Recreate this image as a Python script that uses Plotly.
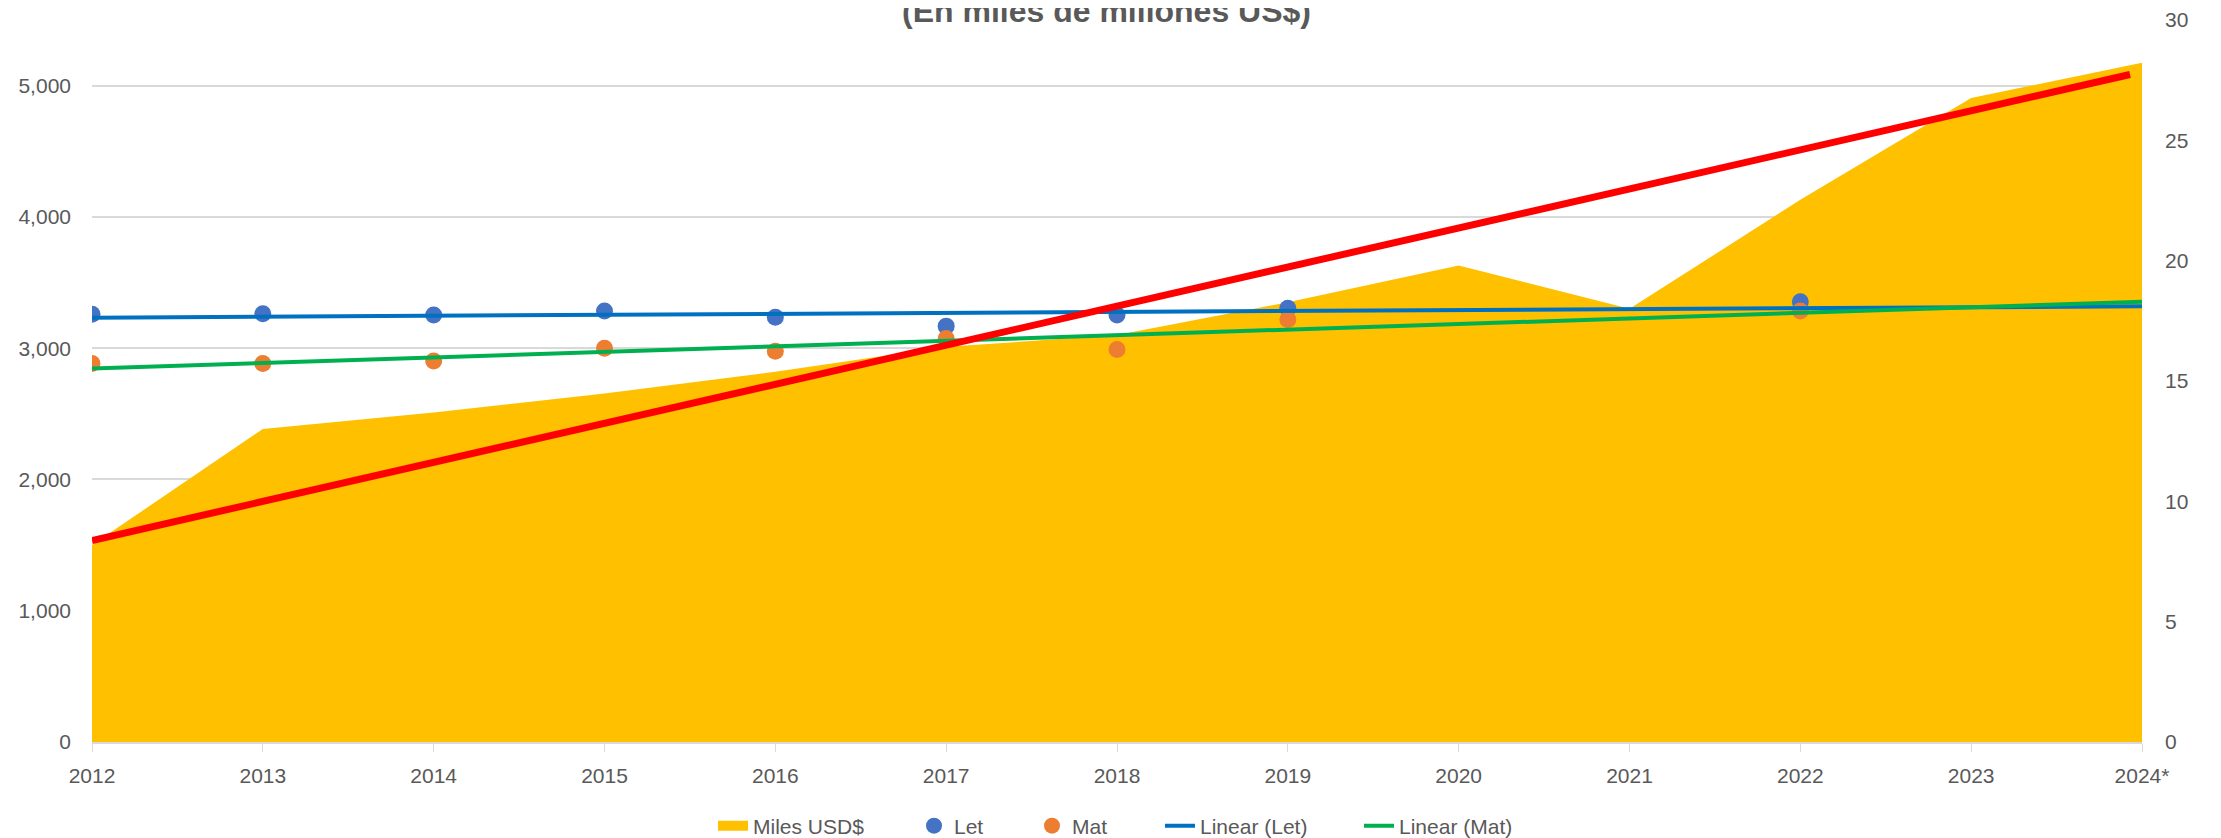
import numpy as np
import plotly.graph_objects as go

# ---------------- data ----------------
years = [2012, 2013, 2014, 2015, 2016, 2017, 2018, 2019, 2020, 2021, 2022, 2023, 2024]
year_labels = ["2012", "2013", "2014", "2015", "2016", "2017", "2018", "2019",
               "2020", "2021", "2022", "2023", "2024*"]
miles_usd = [1500, 2385, 2510, 2655, 2820, 3010, 3100, 3350, 3630, 3300, 4130, 4905, 5175]
let_scores = [17.77, 17.79, 17.74, 17.91, 17.65, 17.28, 17.74, 18.02, None, None, 18.29, None, None]
mat_scores = [15.73, 15.73, 15.83, 16.36, 16.24, 16.77, 16.31, 17.56, None, None, 17.91, None, None]
# red guide line (left-axis units)
red_years = [2012, 2023.93]
red_usd = [1535, 5085]

left_ticks = [0, 1000, 2000, 3000, 4000, 5000]
right_ticks = [0, 5, 10, 15, 20, 25, 30]
LEFT_MAX = 5500
RIGHT_MAX = 30

title_text = "(En miles de millones US$)"

# ---------------- styling ----------------
FONT = "Liberation Sans, Arial, sans-serif"
GRAY = "#595959"
AREA = "#FFC000"
W, H = 2221, 838
OFF = 8  # default page body margin of the html page
ML, MR, MT, MB = 92 - OFF, 79 + OFF, 20 - OFF, 96 + OFF


def linear_fit(xs, ys):
    pts = [(x, y) for x, y in zip(xs, ys) if y is not None]
    px = np.array([p[0] for p in pts], dtype=float)
    py = np.array([p[1] for p in pts], dtype=float)
    m, b = np.polyfit(px, py, 1)
    xx = np.array([xs[0], xs[-1]], dtype=float)
    return xx, m * xx + b


let_tx, let_ty = linear_fit(years, let_scores)
mat_tx, mat_ty = linear_fit(years, mat_scores)
red_on_right = [v * RIGHT_MAX / LEFT_MAX for v in red_usd]

fig = go.Figure()

fig.add_trace(go.Scatter(
    x=years, y=miles_usd, name="Miles USD$", mode="lines",
    fill="tozeroy", fillcolor=AREA, line=dict(width=0, color=AREA),
    yaxis="y", showlegend=False,
))
# legend swatch for the area series (thick block like the reference)
fig.add_trace(go.Scatter(
    x=[None], y=[None], name="Miles USD$", mode="lines",
    line=dict(width=13, color=AREA), yaxis="y", legend="legend",
))
fig.add_trace(go.Scatter(
    x=years, y=let_scores, name="Let", mode="markers",
    marker=dict(color="#4472C4", size=17), yaxis="y2", legend="legend2",
))
fig.add_trace(go.Scatter(
    x=years, y=mat_scores, name="Mat", mode="markers",
    marker=dict(color="#ED7D31", size=17), yaxis="y2", legend="legend3",
))
fig.add_trace(go.Scatter(
    x=let_tx, y=let_ty, name="Linear (Let)", mode="lines",
    line=dict(color="#0070C0", width=4), yaxis="y2", legend="legend4",
))
fig.add_trace(go.Scatter(
    x=mat_tx, y=mat_ty, name="Linear (Mat)", mode="lines",
    line=dict(color="#00B050", width=4), yaxis="y2", legend="legend5",
))
fig.add_trace(go.Scatter(
    x=red_years, y=red_on_right, mode="lines", showlegend=False,
    line=dict(color="#FF0000", width=7), yaxis="y2",
))

# legend text start positions (page px) as seen in the reference
legend_text_px = [753, 954, 1072, 1200, 1399]
legend_y = 1 - (826 - OFF) / H


def legend_at(text_px):
    return dict(
        xref="container", yref="container",
        x=(text_px - OFF - 40) / W, xanchor="left",
        y=legend_y, yanchor="middle",
        orientation="h", bgcolor="rgba(0,0,0,0)",
        font=dict(family=FONT, size=21, color=GRAY),
    )


fig.update_layout(
    width=W, height=H,
    margin=dict(l=ML, r=MR, t=MT, b=MB, autoexpand=False),
    paper_bgcolor="white", plot_bgcolor="white",
    font=dict(family=FONT, size=21, color=GRAY),
    showlegend=True,
    legend=legend_at(legend_text_px[0]),
    legend2=legend_at(legend_text_px[1]),
    legend3=legend_at(legend_text_px[2]),
    legend4=legend_at(legend_text_px[3]),
    legend5=legend_at(legend_text_px[4]),
    xaxis=dict(
        range=[2012, 2024], tickvals=years, ticktext=year_labels,
        showgrid=False, zeroline=False, automargin=False,
        showline=True, linecolor="#D9D9D9", linewidth=2,
        ticks="outside", ticklen=8, tickcolor="#D9D9D9", tickwidth=1,
        ticklabelstandoff=6,
        tickfont=dict(family=FONT, size=21, color=GRAY),
    ),
    yaxis=dict(
        range=[0, LEFT_MAX], tickvals=left_ticks, tickformat=",d",
        showgrid=True, gridcolor="#D9D9D9", gridwidth=2, automargin=False,
        zeroline=False, showline=False, ticks="",
        ticklabelstandoff=20,
        tickfont=dict(family=FONT, size=21, color=GRAY),
    ),
    yaxis2=dict(
        range=[0, RIGHT_MAX], tickvals=right_ticks, overlaying="y", side="right",
        showgrid=False, zeroline=False, showline=False, ticks="", automargin=False,
        ticklabelstandoff=22,
        tickfont=dict(family=FONT, size=21, color=GRAY),
    ),
    annotations=[dict(
        text="<b>" + title_text + "</b>", xref="paper", yref="paper",
        x=0.495, y=1, xanchor="center", yanchor="bottom", yshift=-11,
        showarrow=False, font=dict(family=FONT, size=32, color=GRAY),
    )],
)

fig.write_html("out.html")
